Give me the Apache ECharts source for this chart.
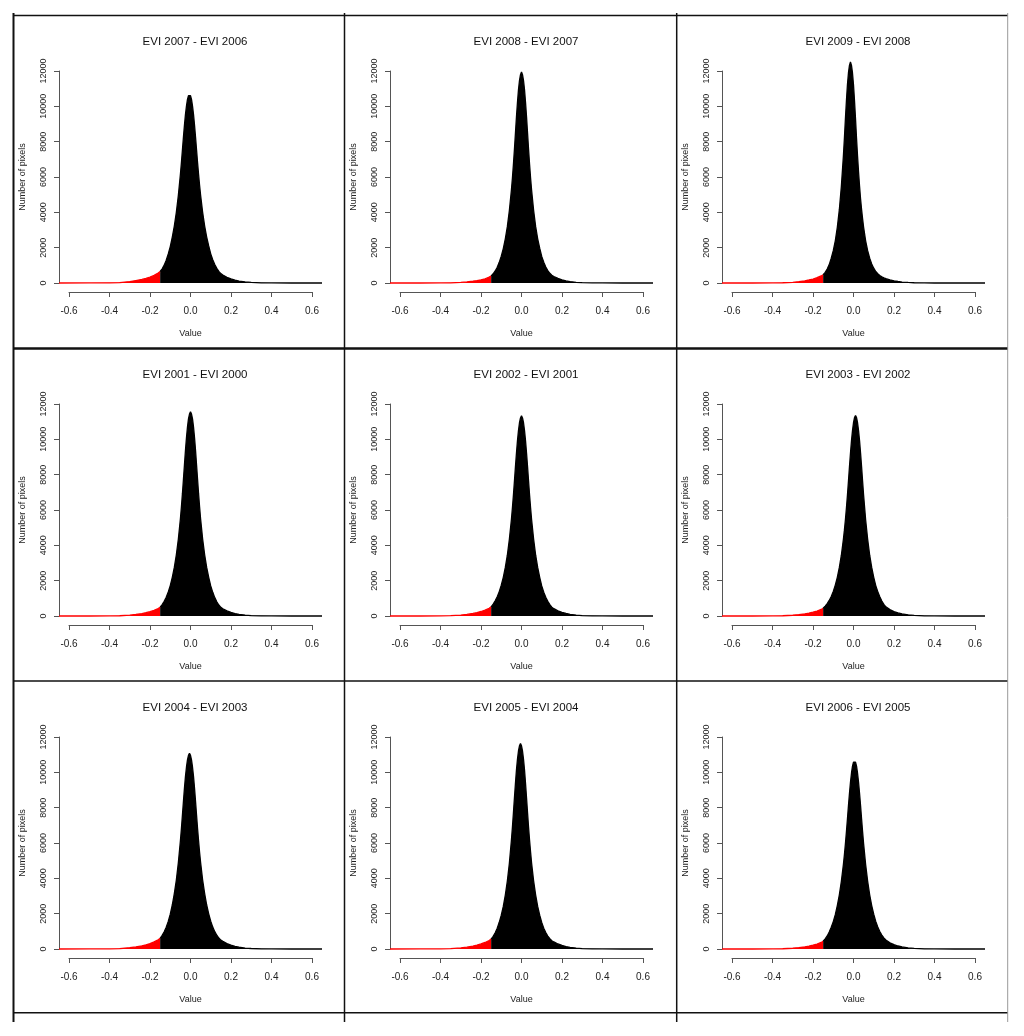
<!DOCTYPE html>
<html>
<head>
<meta charset="utf-8">
<title>EVI year-to-year difference histograms</title>
<script src="https://cdn.jsdelivr.net/npm/echarts@6/dist/echarts.min.js"></script>
<style>
  html, body { margin: 0; padding: 0; background: #fff; }
  #chart { width: 1024px; height: 1036px; }
</style>
</head>
<body>
<div id="chart"></div>
<script>
// bin positions (EVI difference), shared by all panels
const valueBins = [
  -0.65, -0.5, -0.4, -0.35, -0.3, -0.27, -0.24, -0.22, -0.2, -0.18, -0.16,
  -0.15, -0.14, -0.13, -0.12, -0.11, -0.1, -0.09, -0.08, -0.07, -0.06,
  -0.05, -0.045, -0.04, -0.035, -0.03, -0.025, -0.02, -0.015, -0.01, -0.005,
  0, 0.005, 0.01, 0.015, 0.02, 0.025, 0.03, 0.035, 0.04, 0.045, 0.05,
  0.06, 0.07, 0.08, 0.09, 0.1, 0.11, 0.12, 0.13, 0.14, 0.15,
  0.16, 0.18, 0.2, 0.22, 0.24, 0.27, 0.3, 0.35, 0.4, 0.5, 0.65
]

// pixel counts per bin, one list per panel
const counts0706 = [
  0, 2, 8, 25, 80, 140, 200, 260, 340, 430, 560,
  650, 800, 1010, 1290, 1640, 2060, 2600, 3220, 4000, 4960,
  6140, 6800, 7530, 8250, 8920, 9530, 10010, 10390, 10600, 10710,
  10600, 10390, 10010, 9530, 8920, 8250, 7530, 6800, 6140, 5520, 4960,
  4000, 3220, 2600, 2100, 1650, 1320, 1050, 830, 660, 530,
  450, 320, 230, 160, 110, 60, 30, 10, 3, 0, 0
]
const counts0807 = [
  0, 1, 4, 12, 35, 60, 100, 135, 180, 240, 330,
  400, 520, 680, 890, 1170, 1520, 1950, 2500, 3190, 4100,
  5240, 5930, 6700, 7550, 8480, 9390, 10220, 10930, 11460, 11790,
  11940, 11790, 11460, 10930, 10220, 9390, 8480, 7550, 6700, 5930, 5240,
  4100, 3190, 2500, 1970, 1500, 1170, 900, 700, 550, 440,
  370, 260, 180, 120, 80, 40, 20, 6, 2, 0, 0
]
const counts0908 = [
  0, 1, 4, 14, 40, 75, 125, 170, 225, 300, 400,
  470, 600, 790, 1040, 1400, 1830, 2390, 3150, 4150, 5470,
  7180, 8190, 9300, 10320, 11220, 11890, 12320, 12510, 12320, 11890,
  11220, 10320, 9300, 8190, 7180, 6280, 5470, 4750, 4150, 3630, 3150,
  2390, 1830, 1400, 1080, 840, 650, 525, 425, 345, 290,
  245, 175, 125, 85, 55, 30, 15, 5, 1, 0, 0
]
const counts0100 = [
  0, 1, 5, 15, 45, 85, 140, 185, 245, 320, 420,
  500, 640, 830, 1060, 1360, 1720, 2190, 2750, 3460, 4360,
  5490, 6170, 6910, 7720, 8550, 9360, 10090, 10690, 11160, 11430,
  11560, 11430, 11160, 10690, 10090, 9360, 8550, 7720, 6910, 6170, 5490,
  4360, 3460, 2750, 2190, 1700, 1340, 1040, 800, 620, 490,
  410, 290, 205, 140, 95, 50, 25, 8, 2, 0, 0
]
const counts0201 = [
  0, 1, 5, 16, 50, 90, 145, 195, 255, 330, 440,
  520, 670, 860, 1090, 1380, 1740, 2190, 2750, 3440, 4340,
  5450, 6110, 6830, 7630, 8440, 9210, 9910, 10490, 10940, 11210,
  11330, 11210, 10940, 10490, 9910, 9210, 8440, 7630, 6830, 6110, 5450,
  4340, 3440, 2750, 2190, 1700, 1350, 1060, 830, 640, 500,
  415, 295, 210, 145, 95, 50, 25, 8, 2, 0, 0
]
const counts0302 = [
  0, 1, 4, 14, 42, 78, 125, 165, 215, 280, 370,
  440, 560, 700, 880, 1100, 1390, 1750, 2190, 2750, 3440,
  4340, 4860, 5450, 6110, 6830, 7630, 8440, 9210, 9910, 10490,
  10940, 11230, 11350, 11230, 10940, 10490, 9910, 9210, 8440, 7630, 6830,
  5450, 4340, 3440, 2750, 2190, 1720, 1380, 1090, 850, 660,
  520, 360, 250, 175, 120, 65, 32, 10, 3, 0, 0
]
const counts0403 = [
  0, 2, 7, 22, 70, 120, 180, 240, 310, 400, 520,
  600, 770, 970, 1230, 1560, 1970, 2490, 3130, 3900, 4890,
  6110, 6800, 7570, 8340, 9090, 9760, 10290, 10710, 10960, 11080,
  10960, 10710, 10290, 9760, 9090, 8340, 7570, 6800, 6110, 5460, 4890,
  3900, 3130, 2490, 1990, 1570, 1240, 980, 780, 620, 500,
  430, 305, 215, 150, 100, 55, 28, 9, 3, 0, 0
]
const counts0504 = [
  0, 2, 6, 20, 60, 105, 165, 220, 285, 370, 480,
  560, 720, 920, 1180, 1510, 1910, 2410, 3050, 3840, 4850,
  6140, 6870, 7700, 8550, 9370, 10130, 10730, 11210, 11500, 11630,
  11500, 11210, 10730, 10130, 9370, 8550, 7700, 6870, 6140, 5470, 4850,
  3840, 3050, 2410, 1910, 1500, 1180, 930, 730, 580, 470,
  400, 285, 200, 140, 95, 50, 25, 8, 2, 0, 0
]
const counts0605 = [
  0, 1, 4, 14, 42, 78, 125, 165, 215, 280, 370,
  440, 570, 740, 960, 1230, 1550, 1940, 2460, 3070, 3830,
  4780, 5330, 5950, 6630, 7360, 8100, 8800, 9440, 9950, 10350,
  10580, 10690, 10580, 10350, 9950, 9440, 8800, 8100, 7360, 6630, 5950,
  4780, 3830, 3070, 2460, 1970, 1560, 1240, 990, 790, 630,
  510, 350, 245, 170, 115, 62, 30, 10, 3, 0, 0
]

const panelTitles = [
  'EVI 2007 - EVI 2006', 'EVI 2008 - EVI 2007', 'EVI 2009 - EVI 2008',
  'EVI 2001 - EVI 2000', 'EVI 2002 - EVI 2001', 'EVI 2003 - EVI 2002',
  'EVI 2004 - EVI 2003', 'EVI 2005 - EVI 2004', 'EVI 2006 - EVI 2005'
]
const panelCounts = [
  counts0706, counts0807, counts0908,
  counts0100, counts0201, counts0302,
  counts0403, counts0504, counts0605
]

// axis ticks
const xTickMin = -0.6
const xTickMax = 0.6
const xTickStep = 0.2
const yTickMin = 0
const yTickMax = 12000
const yTickStep = 2000
const redBelow = -0.15

const FONT = "'Liberation Sans', Arial, Helvetica, sans-serif"
const colLeft = [13, 344, 676]
const rowTop = [15, 348, 681]

const grid = []
const xAxis = []
const yAxis = []
const series = []
const title = []

panelTitles.forEach((name, i) => {
  const left = colLeft[i % 3]
  const top = rowTop[Math.floor(i / 3)]
  const counts = panelCounts[i]

  // plot region
  grid.push({ left: left + 46, top: top + 56, width: 263, height: 212, containLabel: false, outerBoundsMode: 'none' })
  // strip that carries the drawn x axis (only spans the tick range)
  grid.push({ left: left + 56, top: top + 276, width: 243, height: 1, containLabel: false, outerBoundsMode: 'none' })

  xAxis.push({ gridIndex: 2 * i, type: 'value', min: -0.65, max: 0.65, show: false })
  xAxis.push({
    gridIndex: 2 * i + 1, type: 'value', position: 'bottom',
    min: xTickMin, max: xTickMax, interval: xTickStep,
    name: 'Value', nameLocation: 'middle', nameGap: 37,
    nameTextStyle: { fontFamily: FONT, fontSize: 9, color: '#222' },
    axisLine: { show: true, onZero: false, lineStyle: { color: '#555', width: 1 } },
    axisTick: { show: true, length: 5, lineStyle: { color: '#555' } },
    axisLabel: {
      fontFamily: FONT, fontSize: 10, color: '#222', margin: 14,
      formatter: (v) => (Math.abs(v) < 1e-9 ? 0 : v).toFixed(1)
    },
    splitLine: { show: false }
  })

  yAxis.push({
    gridIndex: 2 * i, type: 'value', position: 'left',
    min: yTickMin, max: yTickMax, interval: yTickStep,
    name: 'Number of pixels', nameLocation: 'middle', nameGap: 32,
    nameTextStyle: { fontFamily: FONT, fontSize: 9, color: '#222' },
    axisLine: { show: true, onZero: false, lineStyle: { color: '#555', width: 1 } },
    axisTick: { show: true, length: 5, lineStyle: { color: '#555' } },
    axisLabel: {
      fontFamily: FONT, fontSize: 9, color: '#222', margin: 11, rotate: 90,
      formatter: (v) => String(Math.round(v))
    },
    splitLine: { show: false }
  })
  yAxis.push({ gridIndex: 2 * i + 1, type: 'value', show: false })

  const redPts = []
  const blackPts = []
  valueBins.forEach((x, k) => {
    if (x <= redBelow) redPts.push([x, counts[k]])
    if (x >= redBelow) blackPts.push([x, counts[k]])
  })

  const base = {
    type: 'line', xAxisIndex: 2 * i, yAxisIndex: 2 * i,
    symbol: 'none', showSymbol: false, smooth: false, clip: false, silent: true
  }
  series.push(Object.assign({}, base, {
    data: redPts,
    lineStyle: { color: '#ff0000', width: 1.3 },
    itemStyle: { color: '#ff0000' },
    areaStyle: { color: '#ff0000', opacity: 1 }
  }))
  series.push(Object.assign({}, base, {
    data: blackPts,
    lineStyle: { color: '#000000', width: 1.3 },
    itemStyle: { color: '#000000' },
    areaStyle: { color: '#000000', opacity: 1 }
  }))

  title.push({
    text: name, left: left + 177, top: top + 16, textAlign: 'center',
    textStyle: { fontFamily: FONT, fontSize: 11.5, fontWeight: 'normal', color: '#111' }
  })
})

// panel frame lines
const frame = []
const hLine = (y, w) => frame.push({ type: 'line', shape: { x1: 13, y1: y, x2: 1008, y2: y }, style: { stroke: '#111', lineWidth: w } })
const vLine = (x, w, c) => frame.push({ type: 'line', shape: { x1: x, y1: 13, x2: x, y2: 1022 }, style: { stroke: c, lineWidth: w } })
hLine(15.5, 1.5)
hLine(348.5, 2.5)
hLine(681, 1.5)
hLine(1012.7, 1.5)
vLine(13.5, 2, '#111')
vLine(344.5, 1.5, '#111')
vLine(676.7, 1.5, '#111')
vLine(1007.7, 1, '#999')

const chart = echarts.init(document.getElementById('chart'))
chart.setOption({
  animation: false,
  backgroundColor: '#ffffff',
  title,
  grid,
  xAxis,
  yAxis,
  series,
  graphic: { elements: frame }
})
</script>
</body>
</html>
